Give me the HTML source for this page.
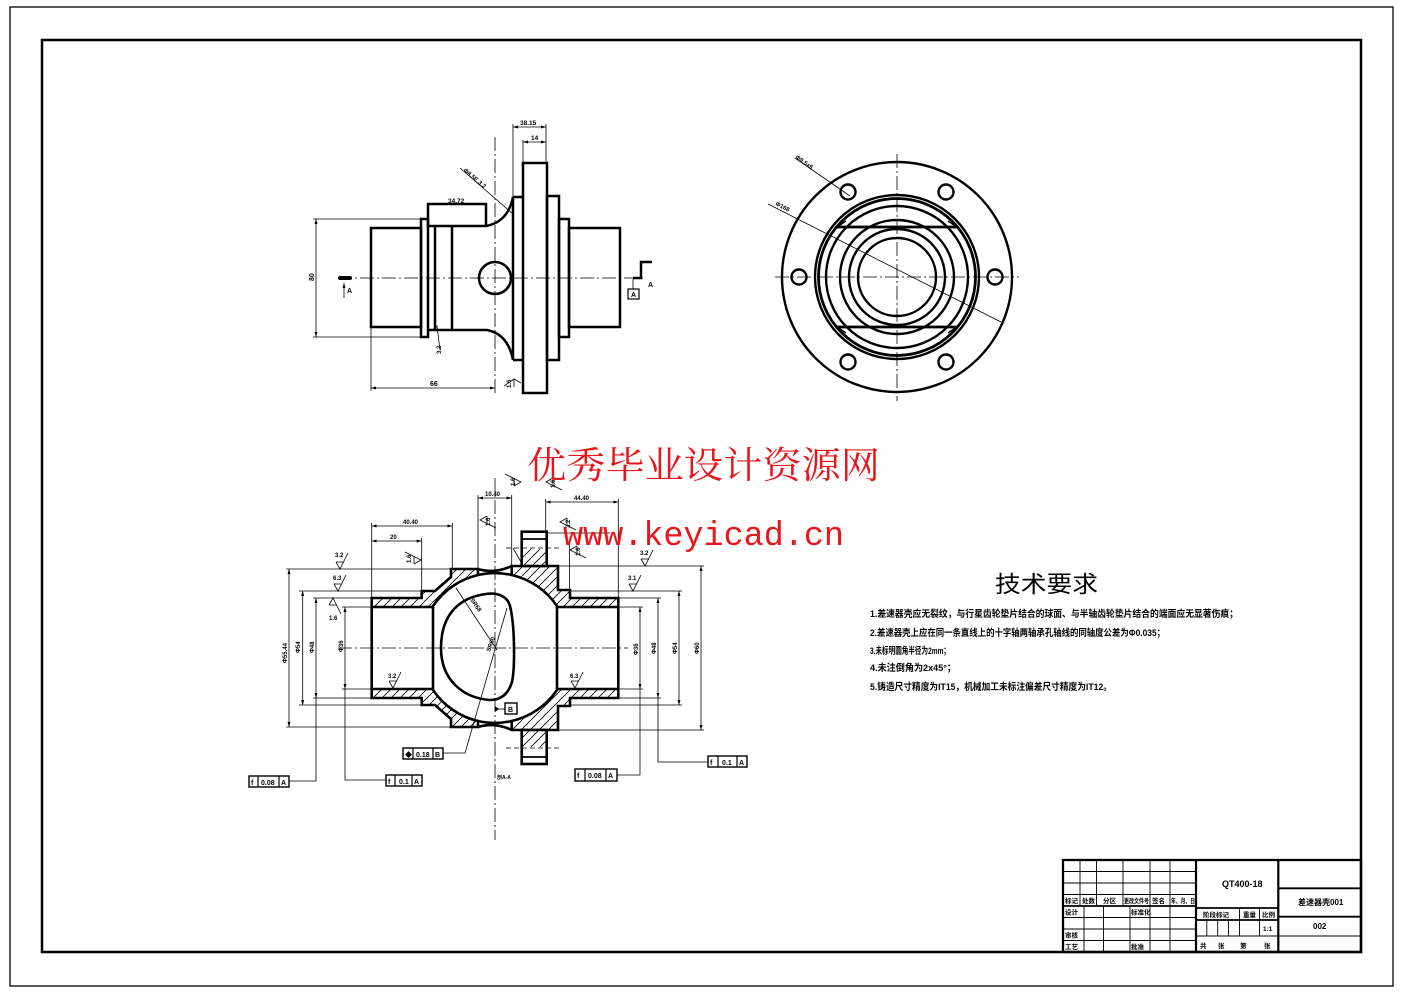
<!DOCTYPE html>
<html><head><meta charset="utf-8"><style>
html,body{margin:0;padding:0;background:#fff;}
svg{display:block;}
.t{font-family:"Liberation Sans","Noto Sans CJK SC",sans-serif;font-weight:bold;fill:#000;}
</style></head><body>
<svg width="1403" height="992" viewBox="0 0 1403 992" xmlns="http://www.w3.org/2000/svg">
<defs>
<pattern id="h" patternUnits="userSpaceOnUse" width="9" height="9">
<path d="M-1 10 L10 -1" stroke="#000" stroke-width="0.8"/>
</pattern>
<marker id="ar" viewBox="0 0 10 10" refX="10" refY="5" markerWidth="5" markerHeight="5" orient="auto-start-reverse" markerUnits="userSpaceOnUse"><path d="M0 2 L10 5 L0 8Z" fill="#000"/></marker>
</defs>
<rect width="1403" height="992" fill="#fff"/>
<!-- borders -->
<rect x="10" y="7" width="1383" height="979" fill="none" stroke="#000" stroke-width="1.3"/>
<rect x="42" y="40" width="1319" height="912" fill="none" stroke="#000" stroke-width="2.5"/>

<!-- ============ TOP LEFT VIEW ============ -->
<g stroke="#000" stroke-width="2.5" fill="none">
<rect x="371" y="228" width="50" height="99"/>
<rect x="421" y="219" width="7" height="118"/>
<rect x="428" y="204" width="58" height="22"/>
<path d="M486 226 Q508 222 513 197"/>
<path d="M428 330 L487 330 Q508 334 513 360"/>
<line x1="435" y1="226" x2="435" y2="330"/>
<line x1="452" y1="226" x2="452" y2="330"/>
<path d="M513 197 L523 197 M513 360 L523 360"/>
<line x1="513" y1="197" x2="513" y2="360"/>
<rect x="523" y="163" width="24" height="230"/>
<rect x="547" y="196" width="12" height="164"/>
<rect x="559" y="219" width="10" height="118"/>
<rect x="569" y="228" width="51" height="99"/>
<circle cx="495" cy="278" r="16"/>
</g>
<g stroke="#000" stroke-width="0.8" fill="none">
<line x1="338" y1="278" x2="645" y2="278" stroke-dasharray="14 3 2 3"/>
<line x1="495" y1="137" x2="495" y2="393" stroke-dasharray="14 3 2 3"/>
<line x1="316" y1="219" x2="316" y2="337" marker-start="url(#ar)" marker-end="url(#ar)"/>
<path d="M313 219 L421 219 M313 337 L421 337"/>
<line x1="371" y1="388" x2="495" y2="388" marker-start="url(#ar)" marker-end="url(#ar)"/>
<path d="M371 327 L371 391"/>
<line x1="513" y1="127" x2="546" y2="127" marker-start="url(#ar)" marker-end="url(#ar)"/>
<path d="M513 124 L513 197 M546 124 L546 163"/>
<line x1="523" y1="142" x2="546" y2="142" marker-start="url(#ar)" marker-end="url(#ar)"/>
<path d="M523 140 L523 163"/>
<line x1="460" y1="168" x2="513" y2="214"/>
<path d="M521 383 L514 379 L504 386 M514 379 L514 387"/>
<path d="M433 330 L437 326 L440 350 M433 330 L441 330"/>
</g>
<text class="t" font-size="7" transform="translate(314,281) rotate(-90)">80</text>
<text class="t" font-size="7" x="430" y="386">66</text>
<text class="t" font-size="6.5" x="520" y="125">38.15</text>
<text class="t" font-size="6.5" x="531" y="140">14</text>
<text class="t" font-size="6.5" x="448" y="203">34.72</text>
<text class="t" font-size="6" transform="translate(463,171) rotate(40)">Φ8.5E.3.2</text>
<text class="t" font-size="6" transform="translate(511,388) rotate(-90)">1.6</text>
<text class="t" font-size="6" transform="translate(441,354) rotate(-90)">3.2</text>
<line x1="340" y1="278" x2="350" y2="278" stroke="#000" stroke-width="4" stroke-linecap="round"/>
<line x1="344" y1="298" x2="344" y2="283" stroke="#000" stroke-width="0.8" marker-end="url(#ar)"/>
<text class="t" font-size="7" x="347" y="293">A</text>
<path d="M652 262 L641 262 L641 278 L633 278" stroke="#000" stroke-width="2.5" fill="none"/>
<line x1="633" y1="279" x2="633" y2="289" stroke="#000" stroke-width="0.8"/>
<rect x="628" y="289" width="11" height="10" fill="none" stroke="#000" stroke-width="1.2"/>
<text class="t" font-size="7" x="631" y="297">A</text>
<text class="t" font-size="7" x="648" y="287">A</text>

<!-- ============ TOP RIGHT VIEW ============ -->
<g stroke="#000" stroke-width="2.4" fill="none">
<circle cx="897" cy="277" r="115"/>
<circle cx="995" cy="277" r="7.5"/>
<circle cx="799" cy="277" r="7.5"/>
<circle cx="946" cy="192" r="7.5"/>
<circle cx="848" cy="192" r="7.5"/>
<circle cx="946" cy="362" r="7.5"/>
<circle cx="848" cy="362" r="7.5"/>
<circle cx="897" cy="277" r="82"/>
<circle cx="897" cy="277" r="78.5" stroke-width="2.8"/>
<circle cx="897" cy="277" r="71"/>
<circle cx="897" cy="277" r="57"/>
<circle cx="897" cy="277" r="48"/>
<circle cx="897" cy="277" r="39"/>
<path d="M837 227 L957 227 M837 327 L957 327" stroke-width="2.8"/>
<path d="M837 227 L846 221 M957 227 L948 221 M837 327 L846 333 M957 327 L948 333" stroke-width="1.5"/>
</g>
<g stroke="#000" stroke-width="0.8" fill="none">
<line x1="775" y1="277" x2="1019" y2="277" stroke-dasharray="14 3 2 3"/>
<line x1="897" y1="154" x2="897" y2="401" stroke-dasharray="14 3 2 3"/>
<line x1="768" y1="204" x2="1001" y2="322"/>
<line x1="795" y1="158" x2="850" y2="196"/>
</g>
<text class="t" font-size="6" transform="translate(775,205) rotate(27)">Φ168</text>
<text class="t" font-size="6" transform="translate(795,158) rotate(35)">Φ8.5x6</text>

<!-- ============ BOTTOM SECTION VIEW ============ -->
<g stroke="#000" stroke-width="2.6" fill="url(#h)" stroke-linejoin="miter">
<path d="M371.7 598 L421.7 598 L421.7 591 L435 591 L451 577 L451 569 L478 569 L478 575 A75 75 0 0 0 433 606 L433 607 L371.7 607 Z"/>
<path d="M511.7 566 L558 566 L558 590 L570 590 L570 598 L618.3 598 L618.3 607 L557 607 L557 606 A75 75 0 0 0 511.7 575 Z"/>
<path d="M371.7 698 L421.7 698 L421.7 705 L435 705 L451 719 L451 727 L478 727 L478 721 A75 75 0 0 1 433 690 L433 689 L371.7 689 Z"/>
<path d="M511.7 730 L558 730 L558 706 L570 706 L570 698 L618.3 698 L618.3 689 L557 689 L557 690 A75 75 0 0 1 511.7 721 Z"/>
</g>
<g stroke="#000" stroke-width="2.6" fill="none">
<path d="M478 569 Q495 574 511.7 566"/>
<path d="M478 575 A75 75 0 0 1 511.7 575"/>
<path d="M478 727 Q495 722 511.7 730"/>
<path d="M478 721 A75 75 0 0 0 511.7 721"/>
<line x1="371.7" y1="607" x2="371.7" y2="689"/>
<line x1="433" y1="607" x2="433" y2="689"/>
<line x1="557" y1="607" x2="557" y2="689"/>
<line x1="618.3" y1="607" x2="618.3" y2="689"/>
<rect x="521.7" y="531.7" width="25" height="34.3" fill="#fff"/>
<rect x="521.7" y="730" width="25" height="34" fill="#fff"/>
<path d="M441 648 C441 612 462 597 486 594 C500 592 508 598 510 606 C515 626 515 668 512 682 C508 695 500 700 490 700 C463 698 441 680 441 648 Z"/>
</g>
<g stroke="#000" stroke-width="0.8" fill="none">
<rect x="523" y="549" width="22.4" height="15.7" fill="url(#h)" stroke="none"/>
<rect x="523" y="731.3" width="22.4" height="15.7" fill="url(#h)" stroke="none"/>
<line x1="521.7" y1="539" x2="546.7" y2="539" stroke-width="1.8"/>
<line x1="521.7" y1="757" x2="546.7" y2="757" stroke-width="1.8"/>
<line x1="506" y1="548" x2="562" y2="548" stroke-dasharray="5 3"/>
<line x1="506" y1="748" x2="562" y2="748" stroke-dasharray="5 3"/>
<line x1="338" y1="648" x2="628" y2="648" stroke-dasharray="14 3 2 3"/>
<line x1="495" y1="478" x2="495" y2="840" stroke-dasharray="14 3 2 3"/>
<line x1="289" y1="569" x2="289" y2="727" marker-start="url(#ar)" marker-end="url(#ar)"/>
<path d="M286 569 L451 569 M286 727 L451 727"/>
<line x1="302.7" y1="591" x2="302.7" y2="705" marker-start="url(#ar)" marker-end="url(#ar)"/>
<path d="M299 591 L421.7 591 M299 705 L421.7 705"/>
<line x1="316" y1="598" x2="316" y2="698" marker-start="url(#ar)" marker-end="url(#ar)"/>
<path d="M313 598 L371.7 598 M313 698 L371.7 698 M316 698 L316 781 L289 781"/>
<line x1="345" y1="607" x2="345" y2="689" marker-start="url(#ar)" marker-end="url(#ar)"/>
<path d="M342 607 L371.7 607 M342 689 L371.7 689 M345 689 L345 780 L386 780"/>
<line x1="640" y1="607" x2="640" y2="689" marker-start="url(#ar)" marker-end="url(#ar)"/>
<path d="M618.3 607 L643 607 M618.3 689 L643 689 M640 689 L640 775 L617 775"/>
<line x1="658" y1="598" x2="658" y2="698" marker-start="url(#ar)" marker-end="url(#ar)"/>
<path d="M618.3 598 L661 598 M618.3 698 L661 698 M658 698 L658 762 L708 762"/>
<line x1="679" y1="591" x2="679" y2="705" marker-start="url(#ar)" marker-end="url(#ar)"/>
<path d="M570 591 L682 591 M570 705 L682 705"/>
<line x1="701" y1="566" x2="701" y2="730" marker-start="url(#ar)" marker-end="url(#ar)"/>
<path d="M558 566 L704 566 M558 730 L704 730"/>
<line x1="371.7" y1="526" x2="452.3" y2="526" marker-start="url(#ar)" marker-end="url(#ar)"/>
<path d="M371.7 523 L371.7 598 M452.3 523 L452.3 569"/>
<line x1="371.7" y1="541" x2="421.7" y2="541" marker-start="url(#ar)" marker-end="url(#ar)"/>
<path d="M421.7 538 L421.7 591"/>
<line x1="478" y1="498" x2="511.7" y2="498" marker-start="url(#ar)" marker-end="url(#ar)"/>
<path d="M478 495 L478 569 M511.7 495 L511.7 566"/>
<line x1="545.7" y1="502" x2="618.3" y2="502" marker-start="url(#ar)" marker-end="url(#ar)"/>
<path d="M545.7 499 L545.7 531.7 M618.3 499 L618.3 598"/>
<path d="M546.7 533 L610 533 M569.5 543 L569.5 598"/>
<path d="M443 753 L465 753 L507 608"/>
<line x1="456" y1="588" x2="497" y2="650"/>
<path d="M497 709 L505 709"/>
<path d="M521 562 L513 548"/>
</g>
<path d="M495 706 L499 709 L495 712Z" fill="#000"/>
<g stroke="#000" stroke-width="0.8" fill="none">
<path d="M336 562 L340 569 L348 553 M336 562 L344 562"/>
<path d="M334 584 L338 591 L346 575 M334 584 L342 584"/>
<path d="M329 605 L333 598 L341 614 M329 605 L337 605"/>
<path d="M389 681 L393 688 L401 672 M389 681 L397 681"/>
<path d="M571 681 L575 688 L583 672 M571 681 L579 681"/>
<path d="M641 559 L645 566 L653 550 M641 559 L649 559"/>
<path d="M629 584 L633 591 L641 575 M629 584 L637 584"/>
<g transform="rotate(-90 421 560)"><path d="M417 553 L421 560 L429 544 M417 553 L425 553"/></g>
<g transform="rotate(90 480 520)"><path d="M476 513 L480 520 L488 504 M476 513 L484 513"/></g>
<g transform="rotate(90 560 522)"><path d="M556 515 L560 522 L568 506 M556 515 L564 515"/></g>
<g transform="rotate(90 570 550)"><path d="M566 543 L570 550 L578 534 M566 543 L574 543"/></g>
<g transform="rotate(-90 521 482)"><path d="M517 475 L521 482 L529 466 M517 475 L525 475"/></g>
<g transform="rotate(90 546 482)"><path d="M542 475 L546 482 L554 466 M542 475 L550 475"/></g>
</g>
<g class="t" font-size="6">
<text x="335" y="557">3.2</text>
<text x="333" y="580">6.3</text>
<text x="329" y="620">1.6</text>
<text x="388" y="678">3.2</text>
<text x="570" y="678">6.3</text>
<text x="640" y="555">3.2</text>
<text x="628" y="580">3.1</text>
<text transform="translate(411,563) rotate(-90)">1.6</text>
<text transform="translate(490,526) rotate(-90)">1.6</text>
<text transform="translate(570,528) rotate(-90)">3.2</text>
<text transform="translate(580,556) rotate(-90)">1.6</text>
<text transform="translate(515,486) rotate(-90)">1.6</text>
<text transform="translate(555,488) rotate(-90)">1.6</text>
<text transform="translate(287,663) rotate(-90)">Φ55.44</text>
<text transform="translate(300,653) rotate(-90)">Φ54</text>
<text transform="translate(314,653) rotate(-90)">Φ48</text>
<text transform="translate(343,652) rotate(-90)">Φ36</text>
<text transform="translate(638,655) rotate(-90)">Φ36</text>
<text transform="translate(656,654) rotate(-90)">Φ48</text>
<text transform="translate(677,654) rotate(-90)">Φ54</text>
<text transform="translate(699,654) rotate(-90)">Φ60</text>
<text x="403" y="524">40.40</text>
<text x="390" y="539">20</text>
<text x="485" y="496">10.40</text>
<text x="574" y="500">44.40</text>
<text transform="translate(470,600) rotate(55)">SR68</text>
<text transform="translate(490,652) rotate(-70)">SR60</text>
<text x="497" y="779" font-size="5">剖A-A</text>
</g>
<g stroke="#000" stroke-width="1.4" fill="#fff">
<rect x="249" y="776" width="40" height="11"/>
<rect x="386" y="775" width="36" height="11"/>
<rect x="403" y="748" width="40" height="11"/>
<rect x="575" y="769" width="42" height="12"/>
<rect x="708" y="756" width="39" height="11"/>
<rect x="505" y="703" width="12" height="11"/>
</g>
<g stroke="#000" stroke-width="1.2">
<path d="M258 776 V787 M279 776 V787"/>
<path d="M395 775 V786 M412 775 V786"/>
<path d="M413 748 V759 M433 748 V759"/>
<path d="M585 769 V781 M606 769 V781"/>
<path d="M718 756 V767 M737 756 V767"/>
</g>
<g class="t" font-size="7">
<text x="251" y="785">f</text><text x="261" y="785">0.08</text><text x="281" y="785">A</text>
<text x="388" y="784">f</text><text x="399" y="784">0.1</text><text x="414" y="784">A</text>
<text x="405" y="757">◆</text><text x="416" y="757">0.18</text><text x="435" y="757">B</text>
<text x="577" y="778">f</text><text x="588" y="778">0.08</text><text x="608" y="778">A</text>
<text x="710" y="765">f</text><text x="722" y="765">0.1</text><text x="739" y="765">A</text>
<text x="508" y="712">B</text>
</g>

<!-- ============ TECHNICAL REQUIREMENTS ============ -->
<text x="995" y="592" font-family="Liberation Sans,'Noto Sans CJK SC',sans-serif" font-size="23" fill="#000" textLength="103" lengthAdjust="spacingAndGlyphs">技术要求</text>
<g font-family="Liberation Sans,'Noto Sans CJK SC',sans-serif" font-weight="bold" font-size="9.5" fill="#000">
<text x="870" y="617" textLength="368" lengthAdjust="spacingAndGlyphs">1.差速器壳应无裂纹，与行星齿轮垫片结合的球面、与半轴齿轮垫片结合的端面应无显著伤痕；</text>
<text x="870" y="636" textLength="295" lengthAdjust="spacingAndGlyphs">2.差速器壳上应在同一条直线上的十字轴两轴承孔轴线的同轴度公差为Φ0.035；</text>
<text x="870" y="654" textLength="80" lengthAdjust="spacingAndGlyphs">3.未标明圆角半径为2mm；</text>
<text x="870" y="671" textLength="86" lengthAdjust="spacingAndGlyphs">4.未注倒角为2x45°；</text>
<text x="870" y="690" textLength="242" lengthAdjust="spacingAndGlyphs">5.铸造尺寸精度为IT15，机械加工未标注偏差尺寸精度为IT12。</text>
</g>

<!-- ============ TITLE BLOCK ============ -->
<g stroke="#000" fill="none">
<rect x="1063" y="860" width="298" height="92" stroke-width="2.3"/>
<line x1="1196" y1="860" x2="1196" y2="952" stroke-width="2.2"/>
<line x1="1278.3" y1="860" x2="1278.3" y2="952" stroke-width="2.2"/>
<g stroke-width="0.9">
<path d="M1063 871.5 H1196 M1063 883 H1196 M1063 894.5 H1196 M1063 917.5 H1196 M1063 929 H1196 M1063 940.5 H1196"/>
<path d="M1080 860 V906 M1096.5 860 V906 M1123 860 V906 M1150 860 V906 M1170 860 V906"/>
<path d="M1084 906 V952 M1103.5 906 V952 M1130 906 V952 M1150 906 V952 M1170 906 V952"/>
<path d="M1196 936 H1278.3 M1206.8 920 V936 M1217.7 920 V936 M1228.5 920 V936"/>
<path d="M1239.5 908 V936 M1259.5 908 V936"/>
<path d="M1278.3 936 H1361"/>
</g>
<path d="M1063 906 H1196 M1196 908 H1278.3 M1196 920 H1278.3 M1278.3 888.3 H1361 M1278.3 916.7 H1361" stroke-width="1.8"/>
</g>
<g class="t" font-size="6.5">
<text x="1065" y="903">标记</text><text x="1082" y="903">处数</text><text x="1103" y="903">分区</text>
<text x="1124" y="903" textLength="25" lengthAdjust="spacingAndGlyphs">更改文件号</text>
<text x="1152" y="903">签名</text><text x="1171" y="903" textLength="24" lengthAdjust="spacingAndGlyphs">年、月、日</text>
<text x="1065" y="914.5">设计</text><text x="1131" y="914.5">标准化</text>
<text x="1065" y="937.5">审核</text>
<text x="1065" y="949">工艺</text><text x="1131" y="949">批准</text>
<text x="1203" y="917">阶段标记</text><text x="1243" y="917">重量</text><text x="1262" y="917">比例</text>
<text x="1263" y="931">1:1</text>
<text x="1200" y="948">共</text><text x="1218" y="948">张</text><text x="1240" y="948">第</text><text x="1264" y="948">张</text>
</g>
<text class="t" font-size="9" x="1222" y="887">QT400-18</text>
<text class="t" font-size="8" x="1298" y="905">差速器壳001</text>
<text class="t" font-size="8" x="1313" y="929">002</text>

<!-- ============ WATERMARK ============ -->
<text x="527" y="478" font-family="'Noto Serif CJK SC','Noto Sans CJK SC',serif" font-size="37" fill="#e8151b" textLength="353" lengthAdjust="spacingAndGlyphs">优秀毕业设计资源网</text>
<text x="563" y="545" font-family="'Liberation Mono',monospace" font-size="34" fill="#e8151b" textLength="281" lengthAdjust="spacingAndGlyphs">www.keyicad.cn</text>
</svg>
</body></html>
